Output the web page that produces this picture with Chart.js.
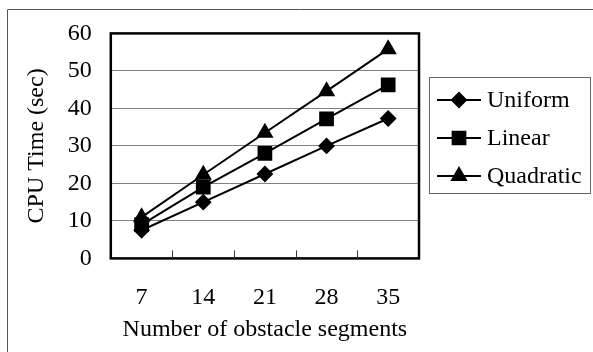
<!DOCTYPE html>
<html>
<head>
<meta charset="utf-8">
<script src="https://cdn.jsdelivr.net/npm/chart.js@4"></script>
<style>
  body { margin: 0; background: #fff; }
  #wrap { width: 593px; height: 352px; position: relative; }
</style>
</head>
<body>
<div id="wrap"><canvas id="myChart"></canvas></div>
<script>
"use strict"

// data
const segments = ["7", "14", "21", "28", "35"];
const uniform = [7.5, 15, 22.5, 30, 37.3];
const linear = [9, 19, 28, 37.2, 46.3];
const quadratic = [11, 22.3, 33.5, 44.6, 55.8];
const seriesNames = ["Uniform", "Linear", "Quadratic"];
const yMin = 0, yMax = 60, yStep = 10;

const fontFam = "'Liberation Serif', 'Times New Roman', serif";
const fontSize = 24;

// frame, inside ticks and the boxed legend
const framePlugin = {
  id: "frame",
  beforeDraw(chart) {
    const c = chart.ctx;
    c.save();
    c.fillStyle = "#fff";
    c.fillRect(0, 0, chart.width, chart.height);
    c.strokeStyle = "#555";
    c.lineWidth = 1;
    c.beginPath();
    c.moveTo(7.5, 352);
    c.lineTo(7.5, 9.5);
    c.lineTo(593, 9.5);
    c.stroke();
    c.restore();
  },
  afterDraw(chart) {
    const c = chart.ctx;
    const a = chart.chartArea;
    const x = chart.scales.x;
    c.save();
    c.strokeStyle = "#000";
    c.lineWidth = 2.5;
    c.strokeRect(a.left, a.top, a.right - a.left, a.bottom - a.top);
    // small tick marks between the categories
    c.lineWidth = 1;
    c.strokeStyle = "#333";
    for (let i = 0; i < segments.length - 1; i++) {
      let px = Math.round((x.getPixelForValue(i) + x.getPixelForValue(i + 1)) / 2) + 0.5;
      c.beginPath();
      c.moveTo(px, a.bottom);
      c.lineTo(px, a.bottom - 8);
      c.stroke();
    }
    // legend
    const bx = a.right + 10, by = 77, bw = 161, bh = 116;
    c.strokeStyle = "#666";
    c.strokeRect(bx + 0.5, by + 0.5, bw, bh);
    c.font = fontSize + "px " + fontFam;
    c.fillStyle = "#000";
    c.textBaseline = "middle";
    chart.data.datasets.forEach((ds, i) => {
      let yy = by + 23 + i * 38;
      c.strokeStyle = "#000";
      c.lineWidth = 2;
      c.beginPath();
      c.moveTo(bx + 8, yy);
      c.lineTo(bx + 52, yy);
      c.stroke();
      c.fillStyle = "#000";
      Chart.helpers.drawPoint(c, {
        pointStyle: ds.pointStyle,
        radius: ds.pointRadius,
        borderWidth: 1,
        rotation: 0
      }, bx + 30, yy);
      c.fillText(ds.label, bx + 58, yy + 1);
    });
    c.restore();
  }
};

function makeSet(label, values, style, radius) {
  return {
    label: label,
    data: values,
    borderColor: "#000",
    backgroundColor: "#000",
    borderWidth: 2,
    pointStyle: style,
    pointRadius: radius,
    pointBorderColor: "#000",
    pointBackgroundColor: "#000",
    tension: 0
  };
}

const ctx = document.getElementById("myChart");

new Chart(ctx, {
  type: "line",
  data: {
    labels: segments,
    datasets: [
      makeSet(seriesNames[0], uniform, "rectRot", 7),
      makeSet(seriesNames[1], linear, "rect", 9),
      makeSet(seriesNames[2], quadratic, "triangle", 8)
    ]
  },
  options: {
    responsive: true,
    maintainAspectRatio: false,
    animation: false,
    layout: { padding: { top: 18, right: 174, bottom: 8, left: 22 } },
    plugins: {
      legend: { display: false },
      tooltip: { enabled: false }
    },
    scales: {
      x: {
        offset: true,
        grid: { display: false, drawTicks: false },
        border: { display: false },
        ticks: { color: "#000", font: { family: fontFam, size: fontSize }, padding: 25 },
        title: {
          display: true,
          text: "Number of obstacle segments",
          color: "#000",
          font: { family: fontFam, size: fontSize },
          padding: { top: -22, bottom: 0 }
        }
      },
      y: {
        min: yMin,
        max: yMax,
        ticks: { stepSize: yStep, color: "#000", font: { family: fontFam, size: fontSize }, padding: 19 },
        grid: { color: "#808080", lineWidth: 1, drawTicks: false },
        border: { display: false },
        title: {
          display: true,
          text: "CPU Time (sec)",
          color: "#000",
          font: { family: fontFam, size: fontSize },
          padding: { top: 0, bottom: -2 }
        }
      }
    }
  },
  plugins: [framePlugin]
});
</script>
</body>
</html>
